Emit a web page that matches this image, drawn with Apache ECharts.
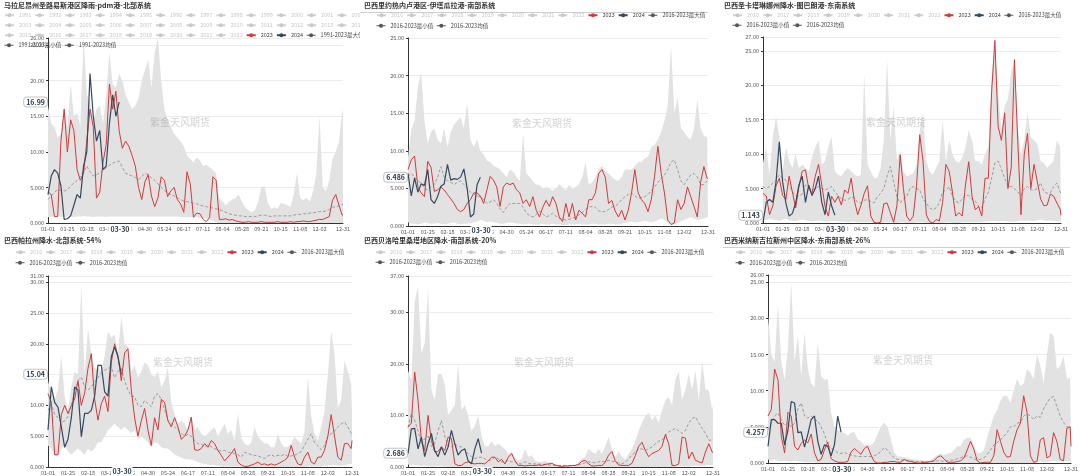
<!DOCTYPE html>
<html><head><meta charset="utf-8">
<script src="https://cdn.jsdelivr.net/npm/echarts/dist/echarts.min.js"></script>
<style>
body{margin:0;background:#fff;width:1080px;height:476px;position:relative;overflow:hidden}
.p{position:absolute}
</style></head><body>
<div id="c1" class="p" style="left:0;top:0;width:360px;height:235px"></div>
<div id="c2" class="p" style="left:360px;top:0;width:360px;height:235px"></div>
<div id="c3" class="p" style="left:720px;top:0;width:360px;height:235px"></div>
<div id="c4" class="p" style="left:0;top:235px;width:360px;height:241px"></div>
<div id="c5" class="p" style="left:360px;top:235px;width:360px;height:241px"></div>
<div id="c6" class="p" style="left:720px;top:235px;width:360px;height:241px"></div>
<script>
// ---- categories ----
const monthDays = [31,29,31,30,31,30,31,31,30,31,30,31];
const dates = [];
monthDays.forEach((n, m) => { for (let d = 1; d <= n; d++) dates.push(String(m + 1).padStart(2, '0') + '-' + String(d).padStart(2, '0')); });
const STEP = 4; // each value below is one reading every 4 days (last one = 12-31)
const yearsLong = ['1991','1992','1993','1994','1995','1996','1997','1998','1999','2000','2001','2002','2003','2004','2005','2006','2007','2008','2009','2010','2011','2012','2013','2014','2015','2016','2017','2018','2019','2020','2021','2022'];
const yearsShort = ['2016','2017','2018','2019','2020','2021','2022'];
const pointerDay = '03-30';

// ---- panel 1 ----
const p1Max = [16.4,14,13.5,12,12.5,16.5,13.5,19.5,15,15.5, 13.6,26,18,17,14.5,16,16.5,14,18,24, 19.5,19,21,20,18,17,16,16.5,17.5,20, 21.5,23,19,24,26,20,16,14.5,13.5,12.5, 12,11.5,10.8,9.5,9,8.5,9.2,8.8,8,8.2, 7.8,7.5,7,3.5,3,2.5,3,3.3,3.5,4, 3,2.2,1.8,1.5,1.8,3,5,5.2,2.8,2, 2.2,2,2.8,2.7,2.5,2.2,4,7,3.5,3.2, 3.5,3,4.5,7,15,5,4.5,6,9,10, 11.5,15.5,16];
const p1Min = [0.8,0.9,0.9,0.9,0.9,0.8,0.9,0.9,0.8,0.9, 0.9,1,0.9,0.9,0.8,0.9,0.9,0.9,0.8,0.9, 0.9,0.9,0.9,0.9,0.9,0.9,0.9,0.9,0.9,0.9, 0.9,0.9,0.9,0.9,0.9,0.9,0.9,0.9,0.9,0.9, 0.9,0.8,0.8,0.8,0.8,0.8,0.8,0.7,0.7,0.6, 0.5,0.3,0.1,0,0,0,0,0,0,0, 0,0,0,0,0,0,0,0,0,0, 0,0,0,0,0,0,0,0,0,0, 0,0,0,0,0,0,0,0,0,0, 0,0,0];
const p1Mean = [3.3,3.8,4.3,4.7,4.6,4.5,4.7,5.2,5.6,6, 6.5,7.2,8,7.2,6.6,6.8,7,7.4,7.8,8.1, 8.4,8.6,8.7,7.8,7,6.8,6.6,6.4,6.1,6.5, 7,6.8,6.3,6,5.5,5,4.6,4.2,4,3.8, 3.5,3.3,3.1,3,2.9,2.8,2.7,2.5,2.4,2.3, 2.2,2.1,2,1.9,1.7,1.5,1.3,1.2,1.1,1, 1,0.9,0.9,0.9,0.9,1,1.1,1.1,1,0.9, 1,1,1,1,1,1,1.1,1.2,1.2,1.3, 1.3,1.4,1.4,1.5,1.6,1.6,1.7,1.9,2.2,2.3, 2.4,2.6,2.6];
const p1Y2023 = [4.4,4,0.9,0.9,11.5,16,10,14.5,13,7.5, 6,7,11.5,16,13.5,3.5,4.3,8.5,11,19.5, 16,18.5,13,10.5,11.5,10.8,9.5,8,5,3.3, 5.8,6.8,3.8,2.3,3.5,6.5,6,3.7,4.5,5, 3.3,2.7,1.5,7.2,5.5,0.8,1.4,1.3,0.5,0.2, 0.8,6.5,6,0.5,0.5,0.6,0.4,0.5,0.3,0.2, 0.1,0.1,0.2,0.1,0.1,0.1,0.2,0.1,0.1,0.1, 0.1,0.2,0.1,0.1,0.1,0.2,0.1,0.2,0.2,0.3, 0.2,0.2,0.3,0.4,0.5,0.5,0.7,0.9,3.2,4, 2.5,1.1,1.2];
const p1Y2024 = [4,6.6,7.5,7,5.2,0.5,0.6,1,2.5,4,3.5,8,10,21,15,11.5,13,7.5,8,14,18,15,16.99];

// ---- panel 2 ----
const p2Max = [9.2,12.8,14,18.5,20.4,14,11,12.5,13,11.5, 11,13,10.5,12.5,13.5,14,14.5,13,16.4,11.5, 10.5,11.5,10,9.5,8.7,8.5,8,7.8,7.5,7, 6.5,7.5,7.2,6.5,6,12.3,7,6.5,6,5.5, 5.5,5,5.2,5,4.7,5,5.6,5.2,4.7,5.5, 5,5.2,5.6,6.5,8.4,5.5,5.8,6.5,7.5,8, 7.2,7,6.5,6.2,6,6.5,7.5,7.5,7.5,8, 8.5,8.5,9,9.2,10.5,10.8,11.5,12.5,14,16, 24,15,17.2,13,12.5,11.8,11.5,13,16.8,13, 12,11.8,11.9];
const p2Min = [0.5,0.3,0.3,0.2,0.3,0.5,0.4,0.3,0.3,0.4, 0.3,0.2,0.3,0.4,0.5,0.3,0.2,0.3,0.3,0.4, 0.5,0.6,0.8,0.7,0.5,0.6,0.5,0.4,0.3,0.3, 0.4,0.5,0.4,0.3,0.3,0.2,0.3,0.3,0.2,0.2, 0.2,0.3,0.2,0.2,0.3,0.2,0.2,0.1,0.1,0.2, 0.2,0.2,0.3,0.2,0.2,0.2,0.3,0.3,0.2,0.2, 0.2,0.3,0.3,0.2,0.2,0.3,0.4,0.5,0.6,0.5, 0.5,0.6,0.7,0.6,0.5,0.6,0.8,1,0.8,0.5, 0.2,0.2,0.4,0.6,0.8,1,1.2,1,0.8,0.9, 1,1.2,1.2];
const p2Mean = [6.6,7,6.5,6,5.7,5,4.8,5.2,5.5,6.5, 7.9,6.5,6,5.8,5.5,5.8,6,5.5,5,4.5, 4.3,4,3.9,3.5,3,3.2,3.5,3,2.3,1.8, 2.5,3,3,3,3,2.5,1.7,1.4,1.2,1.5, 2,1.6,1.2,1.4,1.7,1.3,1,0.9,0.8,0.9, 1,1.2,1.5,1.8,2.2,2.5,2.6,2.5,2,1.9, 1.9,2.2,2.5,2.6,3,3.5,3.9,4.2,4.4,4, 3.7,3.8,3.9,4.2,4.7,5.2,5.8,6.3,6.8,7.5, 8.5,8.8,7.5,6,5.5,6.2,6.8,7,6.5,5.5, 5.5,6,6];
const p2Y2023 = [7.5,8.8,9.3,5.2,4.4,3.9,8.6,7.8,4.6,4.8, 5.2,4.8,4.2,3.6,3,2.2,1.9,2.2,3,3.5, 4.4,4.4,4,3,4.8,6.6,6.1,5.2,2.6,5.2, 5.7,5.5,5.7,4.8,4.4,3,3.5,2.6,3.9,2.1, 1.2,2.5,3.4,2.6,3.9,3,1.2,0.6,3,1.2, 3,0.8,2.1,1.7,1.2,3.5,3.5,4.4,7,7.5, 6.5,3,3.4,2,1.2,2.1,0.8,2.1,4.4,7.5, 4.4,3.5,3,1.9,3.5,6.6,10.6,7,4.4,0.8, 0.2,0.4,3.5,2.2,3,5.2,3.9,2.6,1.2,5.8, 7.9,6.3,6.4];
const p2Y2024 = [7,4,6.4,4.5,5.6,5.4,7.5,3.5,3,3.9,5.3,5.6,8.2,6.1,6.3,6.2,6.5,7.6,5,1.2,1.6,5.5,6.486];

// ---- panel 3 ----
const p3Max = [8.7,11,7,12.5,15.5,12.5,7.5,11,9,8, 10,8,8.5,8,7.5,9.5,11,12,8.5,9, 11,12.6,7.5,7,6.8,7.5,8,7.5,7,6.8, 7,21.7,8.5,7.5,6.5,6.5,8,12,23.7,12, 17,9,10.5,7.5,6.8,7,7.2,8.5,13.5,16, 9,7.5,7,8,9,15,9,12,10,9, 8.7,9.5,11,13.5,12,9,9,8.5,10,11, 20.8,26.5,19,13.5,17,18,22,23.7,14,10, 12,16,12.5,12,11.5,9,8.7,8,8.5,9, 12,11,11];
const p3Min = [0.5,0.4,0.6,0.5,0.4,0.3,0.5,0.6,0.4,0.3, 0.3,0.4,0.5,0.4,0.3,0.2,0.3,0.4,0.3,0.2, 0.2,0.3,0.3,0.2,0.2,0.2,0.1,0.2,0.2,0.1, 0.1,0.1,0.1,0.1,0,0,0,0.1,0.1,0.1, 0,0,0.1,0.1,0,0,0,0.1,0.1,0.1, 0,0,0,0,0,0,0.1,0.1,0,0, 0,0.1,0.1,0.1,0.1,0.1,0.1,0.1,0.2,0.2, 0.3,0.3,0.2,0.3,0.3,0.2,0.2,0.2,0.3,0.4, 0.3,0.4,0.3,0.3,0.4,0.5,0.4,0.3,0.4,0.3, 0.3,0.2,0.2];
const p3Mean = [5.3,5,5.3,5.8,6.2,7,6.5,6.2,5.5,4.5, 4,3.9,4.2,5.5,5.2,4.8,5,5.3,5,4.8, 5,5.3,4.5,4,3.5,3.3,3.4,3.8,3.6,3, 2.9,3.3,3.4,3.1,2.9,3.8,4.3,5,6.8,8.2, 6,3.8,2.9,3.5,3.8,5,5.3,5,4.8,3.5, 2.9,2.2,1.9,2.2,2.9,4.5,4.8,5.3,3.9,3.2, 2.9,3.5,4,4,3.4,3.2,2.4,2.2,3.5,4.5, 6.5,8.7,9,7.8,6.5,5.3,5.3,5,4.5,4, 5,5.3,4.8,4.8,5,5.8,4.6,4.3,4.4,5.3, 5.8,4.5,4.3];
const p3Y2023 = [4.3,3.9,1.2,2.5,5.4,6.5,4,3.4,6.8,4.5, 2.2,5.3,7.5,7.7,5,4.3,6.8,8.5,5.5,2.4, 1,3.9,3,3.9,2.6,4.8,4.3,6.5,3.2,1.2, 2.6,4.3,5.4,1,0.1,0,0.1,2.8,2.9,1.5, 0.1,2.5,9.9,5,1,0.3,1,5.3,12.8,9, 1.2,0.2,0,0.5,0.3,3,8.5,7.5,4.5,1, 1.5,1,5.5,8.9,3.9,1.9,2.4,1,6.5,6.5, 19,26.5,14,12,16,5,8,23.7,12,1.2, 10,13,5,8.5,6,3.5,2.5,2.6,4.2,3.9, 2.9,2,1.1];
const p3Y2024 = [0.1,3,3.4,3,6,11.8,6,2.9,1,1.4,2.9,5.5,6.8,3,5.5,4,5,6.8,3,1.2,4.5,2.5,1.143];

// ---- panel 4 ----
const p4Max = [14,12,11,12.5,18,11.5,9,13,15.5,15, 29.5,15,22.5,18.5,16,16,15.5,18,22,21, 21.5,18.5,24.5,20,19.5,15.5,16.5,14.5,15.5,17, 16.5,15,14.6,15.5,13,14,16.2,10.5,8.5,7, 7.5,7,6,8.1,6,6.5,5.4,5,5.4,6, 6.5,5,6,7,5.4,6,4.3,8.7,4.8,3.8, 3.5,3.9,6.5,5,4.3,3.8,3.8,3.2,3.2,5.4, 3.8,3.2,3.3,3.8,4.9,4.3,3.8,5.8,14.6,8.2, 5.4,4.3,6.5,9,15,22,18.4,9.5,11,17.3, 15.5,13.5,9];
const p4Min = [3.5,3,1.8,1.8,3,3.5,2.5,2,2.5,3, 2.5,2,3,2.5,3,4,4,5,6,6.5, 7,6.5,6,6.5,6,5.5,6,4.5,5,4.5, 4,3.2,4,3.8,3.2,3,3,2.5,2,1.8, 1.5,1.3,1.2,1.2,1,0.8,0.6,0.5,0.4,0.3, 0.3,0.2,0.1,0.1,0.1,0.1,0.1,0.1,0.1,0, 0,0,0,0,0,0,0,0,0,0, 0,0,0,0,0,0,0,0,0.1,0.1, 0.1,0.1,0.1,0.2,0.2,0.3,0.3,0.2,0.2,0.3, 0.4,0.5,0.5];
const p4Mean = [9.2,10.2,8.5,8,7.2,7.5,8.2,10,12,14, 14.6,13,12.5,13,13.8,14.5,15.2,15.7,16,16.2, 14.5,15.5,16,14,12.5,11.5,11.4,10,9.8,10.8, 10.3,9.8,11.5,11.9,11,9.3,7.6,7,6.5,6, 5.5,5,5.3,5,4.3,3.8,3.7,3.3,3.6,3.3, 3,2.7,2.6,2.7,2.4,2.3,2.2,2,1.6,2.4, 2.2,2,1.9,1.8,1.6,1.4,1.8,2,1.7,1.9, 1.8,2.1,1.7,1.8,1.9,2.2,2.5,3.5,4.5,5.4, 4,3.5,2.8,3.5,5,5.4,5.8,6.5,7,7.3, 6.5,5.5,5];
const p4Y2023 = [11.9,10.5,2,2,8.5,10,8.7,10,11,14, 10,12,16,18.4,11,7.6,10.3,11.5,9,17, 20,18,14,18.5,19.2,12.5,8,5,7.5,9.5, 6,3.5,8,6,11,10.5,7.5,6.5,8,6.5, 4.5,5,6,8.1,2.8,2.7,3,3.8,3.2,4.3, 3.8,2.7,1.9,1,1.6,2.2,3,0.8,0.3,0.1, 0.1,0.3,0.5,0.8,0.4,0.5,0.3,0.5,0.3,0.5, 0.8,1.1,1.6,3.5,1.6,0.5,0.3,1.6,2.4,0.8, 0.5,1.6,1.6,2.7,5,8.5,5,1.6,1.1,3.8, 3.8,3,4.3];
const p4Y2024 = [6,13,10.5,9.7,6.5,3.2,4.5,8,13,12.5,4.9,8.7,8.7,9.2,11.5,16.5,16.5,12.2,11.5,17.9,19.5,17.9,15.04];

// ---- panel 5 ----
const p5Max = [18.7,16.8,32,35,22,24,34.5,15,13,18, 18,16,10,11,12,20,11,12,10,7, 8,10,6,4,4,5,4,4.5,4,3.5, 2.5,3,1.8,1.2,1.5,3.5,2,2.3,1.2,1, 1,1.2,0.8,0.9,0.5,0.3,0.3,0.3,0.3,0.4, 0.4,0.8,1.6,2,3.5,3,2.5,3.5,2.5,4, 5.8,3.5,2,3,2,1.5,2.5,3.5,5,7, 8.5,10,10.5,9,10,8.5,11,13,13.5,12, 17,18.5,13,15,18,15,18.7,13,20.6,15, 14.8,11,12];
const p5Min = [0.5,0.3,0.4,0.3,0.2,0.3,0.2,0.1,0.1,0.2, 0.1,0.1,0,0,0,0,0,0,0,0, 0,0,0,0,0,0,0,0,0,0, 0,0,0,0,0,0,0,0,0,0, 0,0,0,0,0,0,0,0,0,0, 0,0,0,0,0,0,0,0,0,0, 0,0,0,0,0,0,0,0,0,0, 0,0,0,0,0,0,0,0,0,0, 0,0.1,0.2,0.1,0.1,0.2,0.3,0.2,0.2,0.3, 0.4,0.3,0.3];
const p5Mean = [7.7,10.3,9,7,4.5,5.5,6,4,4.5,7, 9,6,4,3.9,4.5,4,3.9,3.5,2.5,2, 1.6,1.9,1.9,1.6,1.2,1.4,1.9,1.6,1,1, 1.3,1,1,0.6,0.6,1,0.7,0.6,0.6,0.6, 0.5,0.5,0.4,0.4,0.3,0.3,0.3,0.3,0.3,0.3, 0.3,0.4,0.6,0.8,1,0.9,0.8,1,1.1,1, 1.3,1.1,1,0.8,0.6,0.9,1.6,2.3,2.9,3.5, 3.5,3.2,3.5,3.9,4.5,5,5.2,6,6.8,7.1, 7.5,7,6.5,7.1,8.5,9.4,9.7,8.5,7.5,6.5, 5.2,5.2,5.4];
const p5Y2023 = [7.7,8.5,18.4,12.9,5.2,3.2,10,5.2,2.9,3, 3.9,3.2,5.8,5.5,0.6,0.3,0.3,0.8,1,0.7, 0.6,0.7,0.7,0.6,1.2,1.9,1.9,1,1.5,0.6, 1.9,2.6,1.2,0.3,0.3,0.2,0.3,0.3,0.3,0.4, 0.3,0.5,0.6,0.7,0.4,0.2,0.1,0.2,0.2,0.3, 0.3,0.5,1.1,1.3,0.6,0.2,0.2,0.3,0.3,0.9, 2.3,3,1.2,0.4,0.3,0.3,0.3,0.7,2.2,4, 4.8,3.2,2,2.6,2.9,3.2,4,6.3,4.5,0.3, 0.3,0.6,5.8,5.6,1.6,2.9,1.3,1,0.8,2.9, 4.5,2.9,2.8];
const p5Y2024 = [2.6,7.4,7.5,3.5,5.8,2,4.5,6.5,3.2,2,3.9,2.3,3.9,7.1,4.5,2.3,3.2,3.5,1.2,0.6,3.5,5.5,2.686];

// ---- panel 6 ----
const p6Max = [20.4,15,14,22,14,11.5,16,25,14,17.6, 12,18,13,11,10.5,16.7,12,11.5,11.6,7, 5,4.6,4.3,4.2,3.8,4.2,4.3,3.3,3,2.5, 2.5,2.4,2.9,4,5,5.6,5,3.3,1.5,0.9, 0.9,0.8,0.7,0.6,0.5,0.5,0.4,0.3,0.3,0.4, 0.8,1.1,1.3,1.1,1.3,1.4,1.8,2.3,2.3,3.2, 3.5,3.5,2.5,1.4,1.4,1.8,3.5,5,6.5,7.3, 8.6,9.3,9.3,8.3,10,11.6,10.6,11,13,12.5, 11.6,15,13.5,11,15,18,17.6,13,13.4,14.8, 11.6,11.8,12];
const p6Min = [0.5,0.3,0.5,0.3,0.2,0.3,0.2,0.2,0.3,0.2, 0.2,0.1,0.1,0.1,0.1,0,0,0,0,0, 0,0,0,0,0,0,0,0,0,0, 0,0,0,0,0,0,0,0,0,0, 0,0,0,0,0,0,0,0,0,0, 0,0,0,0,0,0,0,0,0,0, 0,0,0,0,0,0,0,0,0,0, 0,0,0,0,0,0,0,0,0,0, 0,0.1,0.2,0.1,0.1,0.2,0.3,0.2,0.2,0.3, 0.2,0.2,0.2];
const p6Mean = [4.6,5.5,6.5,6.9,6,5.2,5.5,5,5.5,7.5, 8.3,6.5,6.2,6.5,6,5.8,5,4,2.5,2, 1.8,1.4,1.3,1.5,1.2,1.1,1,0.9,0.9,0.9, 0.9,0.9,1,1.2,1.6,2.1,1.8,1.2,0.7,0.5, 0.4,0.4,0.3,0.3,0.2,0.2,0.2,0.2,0.2,0.2, 0.2,0.3,0.3,0.2,0.3,0.4,0.4,0.6,0.7,0.9, 1,0.8,0.6,0.4,0.5,0.7,1.2,1.8,2.5,2.8, 3.2,3.7,4.2,5,5,5.5,5.6,6.5,6.8,6.5, 6,6.5,6.3,7.5,8.3,9,9.2,7.8,6.5,5.6, 5,5,5];
const p6Y2023 = [6.5,7.4,13,11.5,3.7,1.4,7,6.5,2.3,1.8, 2.7,3.2,2.8,4,1.4,0.3,0.5,1.8,2.9,0.6, 0.3,0.1,0.1,0.1,0.2,1.5,2,1.6,1.2,2, 2.3,1.1,0.2,0,0,0.1,0.1,0.2,0.2,0.1, 0.1,0.5,0.3,0.2,0.1,0,0,0.1,0.1,0.2, 0.3,0.8,1,0.6,0.1,0.1,0.1,0.2,0.3,0.7, 1.8,3,1.9,0.3,0,0.1,0.1,0.1,1,4.6, 3,1.5,0.8,0.9,3,4.6,5.5,9.3,7,1, 0.1,0.2,3.2,3.5,0.7,1,4.2,3,0.5,0.3, 4.8,5,2.3];
const p6Y2024 = [2.3,6,6,5.5,5.5,2.5,4.5,8.5,8.3,4.2,4.3,2.2,4,6,6.5,3,1.2,2.5,2.3,1,2.5,6.5,4.257];

const FONT = '"Noto Sans CJK SC", "Noto Sans", sans-serif';
const C2023 = '#d23a3a', C2024 = '#34495e', CGREY = '#555';

function pairs(arr) { return arr.map((v, i) => [Math.min(i * STEP, dates.length - 1), v]); }

function build(domId, cfg) {
  const el = document.getElementById(domId);
  const chart = echarts.init(el, null, {renderer: 'canvas'});
  const nMax = cfg.range + '最大值', nMin = cfg.range + '最小值', nMean = cfg.range + '均值';
  const series = [];
  cfg.years.forEach(y => series.push({name: y, type: 'line', data: [], symbol: 'circle', showSymbol: false}));
  series.push({name: nMin, type: 'line', stack: 'band', data: pairs(cfg.min), symbol: 'circle', showSymbol: false,
    lineStyle: {opacity: 0}, itemStyle: {color: CGREY}, silent: true, z: 1});
  series.push({name: nMax, type: 'line', stack: 'band', data: cfg.max.map((v, i) => [Math.min(i * STEP, dates.length - 1), +(v - cfg.min[i]).toFixed(3)]),
    symbol: 'circle', showSymbol: false, lineStyle: {opacity: 0}, areaStyle: {color: '#e2e2e2', opacity: 1},
    itemStyle: {color: CGREY}, silent: true, z: 1});
  series.push({name: nMean, type: 'line', data: pairs(cfg.mean), symbol: 'circle', showSymbol: false,
    lineStyle: {type: [3, 2], color: '#9a9a9a', width: 1}, itemStyle: {color: CGREY}, z: 3});
  series.push({name: '2023', type: 'line', data: pairs(cfg.y2023), symbol: 'circle', showSymbol: false,
    lineStyle: {color: C2023, width: 1}, itemStyle: {color: C2023}, z: 4});
  series.push({name: '2024', type: 'line', data: pairs(cfg.y2024), symbol: 'circle', showSymbol: false,
    lineStyle: {color: C2024, width: 1.2}, itemStyle: {color: C2024}, z: 5});

  const selected = {};
  cfg.years.forEach(y => selected[y] = false);
  const greyItem = n => ({name: n, itemStyle: {color: CGREY}, lineStyle: {color: CGREY, type: 'solid', opacity: 1, width: 1}});
  let rows;
  if (cfg.years.length > 10) {
    rows = [cfg.years.slice(0, 12), cfg.years.slice(12, 24), cfg.years.slice(24).concat(['2023', '2024', nMax]), [nMin, nMean]];
  } else {
    rows = [cfg.years.concat(['2023', '2024', nMax]), [nMin, nMean]];
  }
  const legends = rows.map((names, r) => ({
    type: 'plain', orient: 'horizontal', left: cfg.legendLeft, top: cfg.legendTop + r * cfg.legendPitch,
    width: 1000, padding: 0, itemWidth: 9, itemHeight: 5, itemGap: 3, inactiveColor: '#c9c9c9',
    textStyle: {fontSize: 5.5, color: '#444', fontFamily: FONT},
    data: names.map(n => (n === nMax || n === nMin || n === nMean) ? greyItem(n) : n),
    selected: selected
  }));

  const g = cfg.grid;
  const graphics = [{
    type: 'text', x: cfg.wm[0], y: cfg.wm[1], z: 100, silent: true,
    style: {text: '紫金天风期货', fill: 'rgba(140,140,140,0.38)', fontSize: 10, fontFamily: FONT, align: 'center', verticalAlign: 'middle'}
  }];
  if (cfg.titleLine) graphics.push({type: 'line', shape: {x1: cfg.titleLine[0], y1: 12.5, x2: cfg.titleLine[1], y2: 12.5}, style: {stroke: '#cfcfcf', lineWidth: 1}, silent: true});

  chart.setOption({
    animation: false,
    textStyle: {fontFamily: FONT},
    title: {text: cfg.title, left: 4, top: 2, padding: 0, textStyle: {fontSize: 7, fontWeight: 'bold', color: '#333', fontFamily: FONT}},
    legend: legends,
    grid: {left: g[0], right: g[1], top: g[2], bottom: g[3], containLabel: false, outerBoundsMode: 'none'},
    xAxis: {
      type: 'category', data: dates, boundaryGap: false,
      axisLine: {lineStyle: {color: '#333', width: 1}},
      axisTick: {show: false},
      axisLabel: {fontSize: 5.5, color: '#555', margin: 3, fontFamily: FONT,
        interval: (i) => (i % 24 === 0 && i <= 340) || i === dates.length - 1},
      splitLine: {show: false},
      axisPointer: {show: true, type: 'line', lineStyle: {opacity: 0}, value: dates.indexOf(pointerDay), status: 'show', triggerTooltip: false,
        label: {show: true, backgroundColor: '#fff', color: '#2c3e50', fontWeight: 'bold', fontSize: 7, padding: [1, 2], margin: 2, fontFamily: FONT}}
    },
    yAxis: {
      type: 'value', min: 0, max: cfg.yMax, interval: cfg.yInterval,
      axisLine: {show: true, lineStyle: {color: '#333', width: 1}},
      axisTick: {show: true, length: 2, lineStyle: {color: '#333'}},
      axisLabel: {fontSize: 5.5, color: '#555', margin: 4, fontFamily: FONT, showMaxLabel: true, formatter: v => Number(v).toPrecision(4)},
      splitLine: {show: true, lineStyle: {color: '#ececec', width: 1}},
      axisPointer: {show: true, type: 'line', lineStyle: {opacity: 0}, value: cfg.pointerY, status: 'show', triggerTooltip: false,
        label: {show: true, backgroundColor: '#fff', borderColor: '#c4c4c4', borderWidth: 1, color: '#2c3e50', fontWeight: 'bold', fontSize: 7, padding: [1, 2], margin: 1, fontFamily: FONT,
          formatter: p => Number(p.value).toPrecision(4)}}
    },
    graphic: graphics,
    series: series
  });
}

build('c1', {title: '马拉尼昂州圣路易斯港区降雨-pdm港-北部系统', range: '1991-2023', years: yearsLong,
  legendLeft: 4, legendTop: 12.5, legendPitch: 10, grid: [48, 17, 38, 12], yMax: 26, yInterval: 5,
  pointerY: p1Y2024[p1Y2024.length - 1], wm: [180, 122],
  max: p1Max, min: p1Min, mean: p1Mean, y2023: p1Y2023, y2024: p1Y2024});
build('c2', {title: '巴西里约热内卢港区-伊塔瓜拉港-南部系统', range: '2016-2023', years: yearsShort,
  legendLeft: 16, legendTop: 12.5, legendPitch: 10.5, grid: [48, 12, 38, 9], yMax: 25, yInterval: 5,
  pointerY: p2Y2024[p2Y2024.length - 1], wm: [182, 123], titleLine: [0, 348],
  max: p2Max, min: p2Min, mean: p2Mean, y2023: p2Y2023, y2024: p2Y2024});
build('c3', {title: '巴西圣卡塔琳娜州降水-图巴朗港-东南系统', range: '2016-2023', years: yearsShort,
  legendLeft: 12, legendTop: 12.5, legendPitch: 10, grid: [43, 19, 37, 12], yMax: 27, yInterval: 5,
  pointerY: p3Y2024[p3Y2024.length - 1], wm: [176, 122],
  max: p3Max, min: p3Min, mean: p3Mean, y2023: p3Y2023, y2024: p3Y2024});
build('c4', {title: '巴西帕拉州降水-北部系统-54%', range: '2016-2023', years: yearsShort,
  legendLeft: 15, legendTop: 14.5, legendPitch: 10.5, grid: [48, 8, 41, 9], yMax: 31, yInterval: 5,
  pointerY: p4Y2024[p4Y2024.length - 1], wm: [183, 127],
  max: p4Max, min: p4Min, mean: p4Mean, y2023: p4Y2023, y2024: p4Y2024});
build('c5', {title: '巴西贝洛哈里桑塔地区降水-南部系统-20%', range: '2016-2023', years: yearsShort,
  legendLeft: 15, legendTop: 14.5, legendPitch: 10, grid: [48, 7, 41, 9], yMax: 37, yInterval: 10,
  pointerY: p5Y2024[p5Y2024.length - 1], wm: [184, 127],
  max: p5Max, min: p5Min, mean: p5Mean, y2023: p5Y2023, y2024: p5Y2024});
build('c6', {title: '巴西米纳斯吉拉斯州中区降水-东南部系统-26%', range: '2016-2023', years: yearsShort,
  legendLeft: 15, legendTop: 14.5, legendPitch: 10.5, grid: [48, 9, 40, 13], yMax: 26, yInterval: 5,
  pointerY: p6Y2024[p6Y2024.length - 1], wm: [183, 125], titleLine: [3, 350],
  max: p6Max, min: p6Min, mean: p6Mean, y2023: p6Y2023, y2024: p6Y2024});
</script>
</body></html>
